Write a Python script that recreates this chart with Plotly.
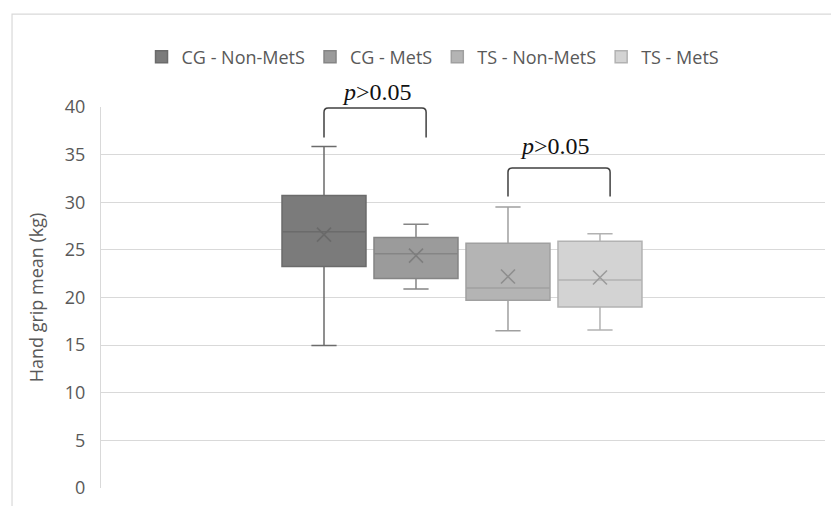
import plotly.graph_objects as go

# ---- data ----
groups = ["CG - Non-MetS", "CG - MetS", "TS - Non-MetS", "TS - MetS"]
group_pos = [0, 1, 2, 3]
lower_whisker = [14.95, 20.9, 16.5, 16.6]
q1 = [23.25, 22.0, 19.7, 19.0]
median = [26.9, 24.6, 21.0, 21.85]
q3 = [30.7, 26.3, 25.7, 25.9]
upper_whisker = [35.85, 27.7, 29.5, 26.7]
mean = [26.6, 24.4, 22.2, 22.1]

fills = ["#7b7b7b", "#9b9b9b", "#b4b4b4", "#d3d3d3"]
lines = ["#6b6b6b", "#858585", "#a0a0a0", "#b2b2b2"]
xmark = ["#6a6a6a", "#7e7e7e", "#8e8e8e", "#9c9c9c"]

# brackets: (left group, right group, top value, leg bottom value, label)
br_left = [0, 2]
br_right = [1, 3]
br_top = [39.9, 33.6]
br_leg = [36.8, 30.6]
br_label = ["<i>p</i>>0.05", "<i>p</i>>0.05"]
br_label_x = [0.58, 2.51]
br_label_y = [41.6, 35.9]

Y_MAX = 40

fig = go.Figure()
for i, g in enumerate(groups):
    fig.add_trace(go.Box(
        x=[group_pos[i]], name=g,
        q1=[q1[i]], median=[median[i]], q3=[q3[i]],
        lowerfence=[lower_whisker[i]], upperfence=[upper_whisker[i]],
        fillcolor=fills[i], line=dict(color=lines[i], width=1.5),
        width=0.913, whiskerwidth=0.3, boxpoints=False, showlegend=True,
    ))
for i, g in enumerate(groups):
    fig.add_trace(go.Scatter(
        x=[group_pos[i]], y=[mean[i]], mode="markers", showlegend=False,
        marker=dict(symbol="x-thin", size=14, line=dict(width=1.6, color=xmark[i])),
        hoverinfo="skip",
    ))

shapes = []
rx, ry = 0.045, 0.45
for l, r, t, b in zip(br_left, br_right, br_top, br_leg):
    xl = group_pos[l]
    xr = group_pos[r] + 0.11
    path = (f"M {xl} {b} L {xl} {t - ry} Q {xl} {t} {xl + rx} {t} "
            f"L {xr - rx} {t} Q {xr} {t} {xr} {t - ry} L {xr} {b}")
    shapes.append(dict(type="path", path=path, xref="x", yref="y",
                       line=dict(color="#404040", width=1.5)))
# outer chart border
shapes.append(dict(type="rect", xref="paper", yref="paper", x0=-0.1229, x1=1.01,
                   y0=-0.2, y1=1.244, line=dict(color="#d9d9d9", width=1.2),
                   layer="below"))

annotations = []
for tx, ty, lab in zip(br_label_x, br_label_y, br_label):
    annotations.append(dict(x=tx, y=ty / Y_MAX, xref="x", yref="paper", text=lab,
                            showarrow=False, yanchor="middle",
                            font=dict(family="Liberation Serif", size=24, color="#111111")))

fig.update_layout(
    width=831, height=506,
    margin=dict(l=101, r=6, t=107, b=18, autoexpand=False),
    paper_bgcolor="white", plot_bgcolor="white",
    font=dict(family="Open Sans", color="#595959"),
    shapes=shapes, annotations=annotations,
    legend=dict(orientation="h", x=0.4586, xanchor="center", y=1.131, yanchor="middle",
                font=dict(size=18, color="#595959"), itemwidth=30),
    xaxis=dict(range=[-2.424, 5.446], showticklabels=False, showgrid=False,
               zeroline=False, showline=False, ticks=""),
    yaxis=dict(range=[0, Y_MAX], dtick=5, showgrid=True, gridcolor="#d9d9d9", gridwidth=1,
               zeroline=False, showline=True, linecolor="#d9d9d9", linewidth=1,
               tickfont=dict(size=18, color="#595959"), ticks="", ticklabelstandoff=11,
               title=dict(text="Hand grip mean (kg)", font=dict(size=18, color="#595959"),
                          standoff=16)),
)

fig.write_html("out.html", config={"displayModeBar": False},
               post_script="document.body.style.margin='0';")
